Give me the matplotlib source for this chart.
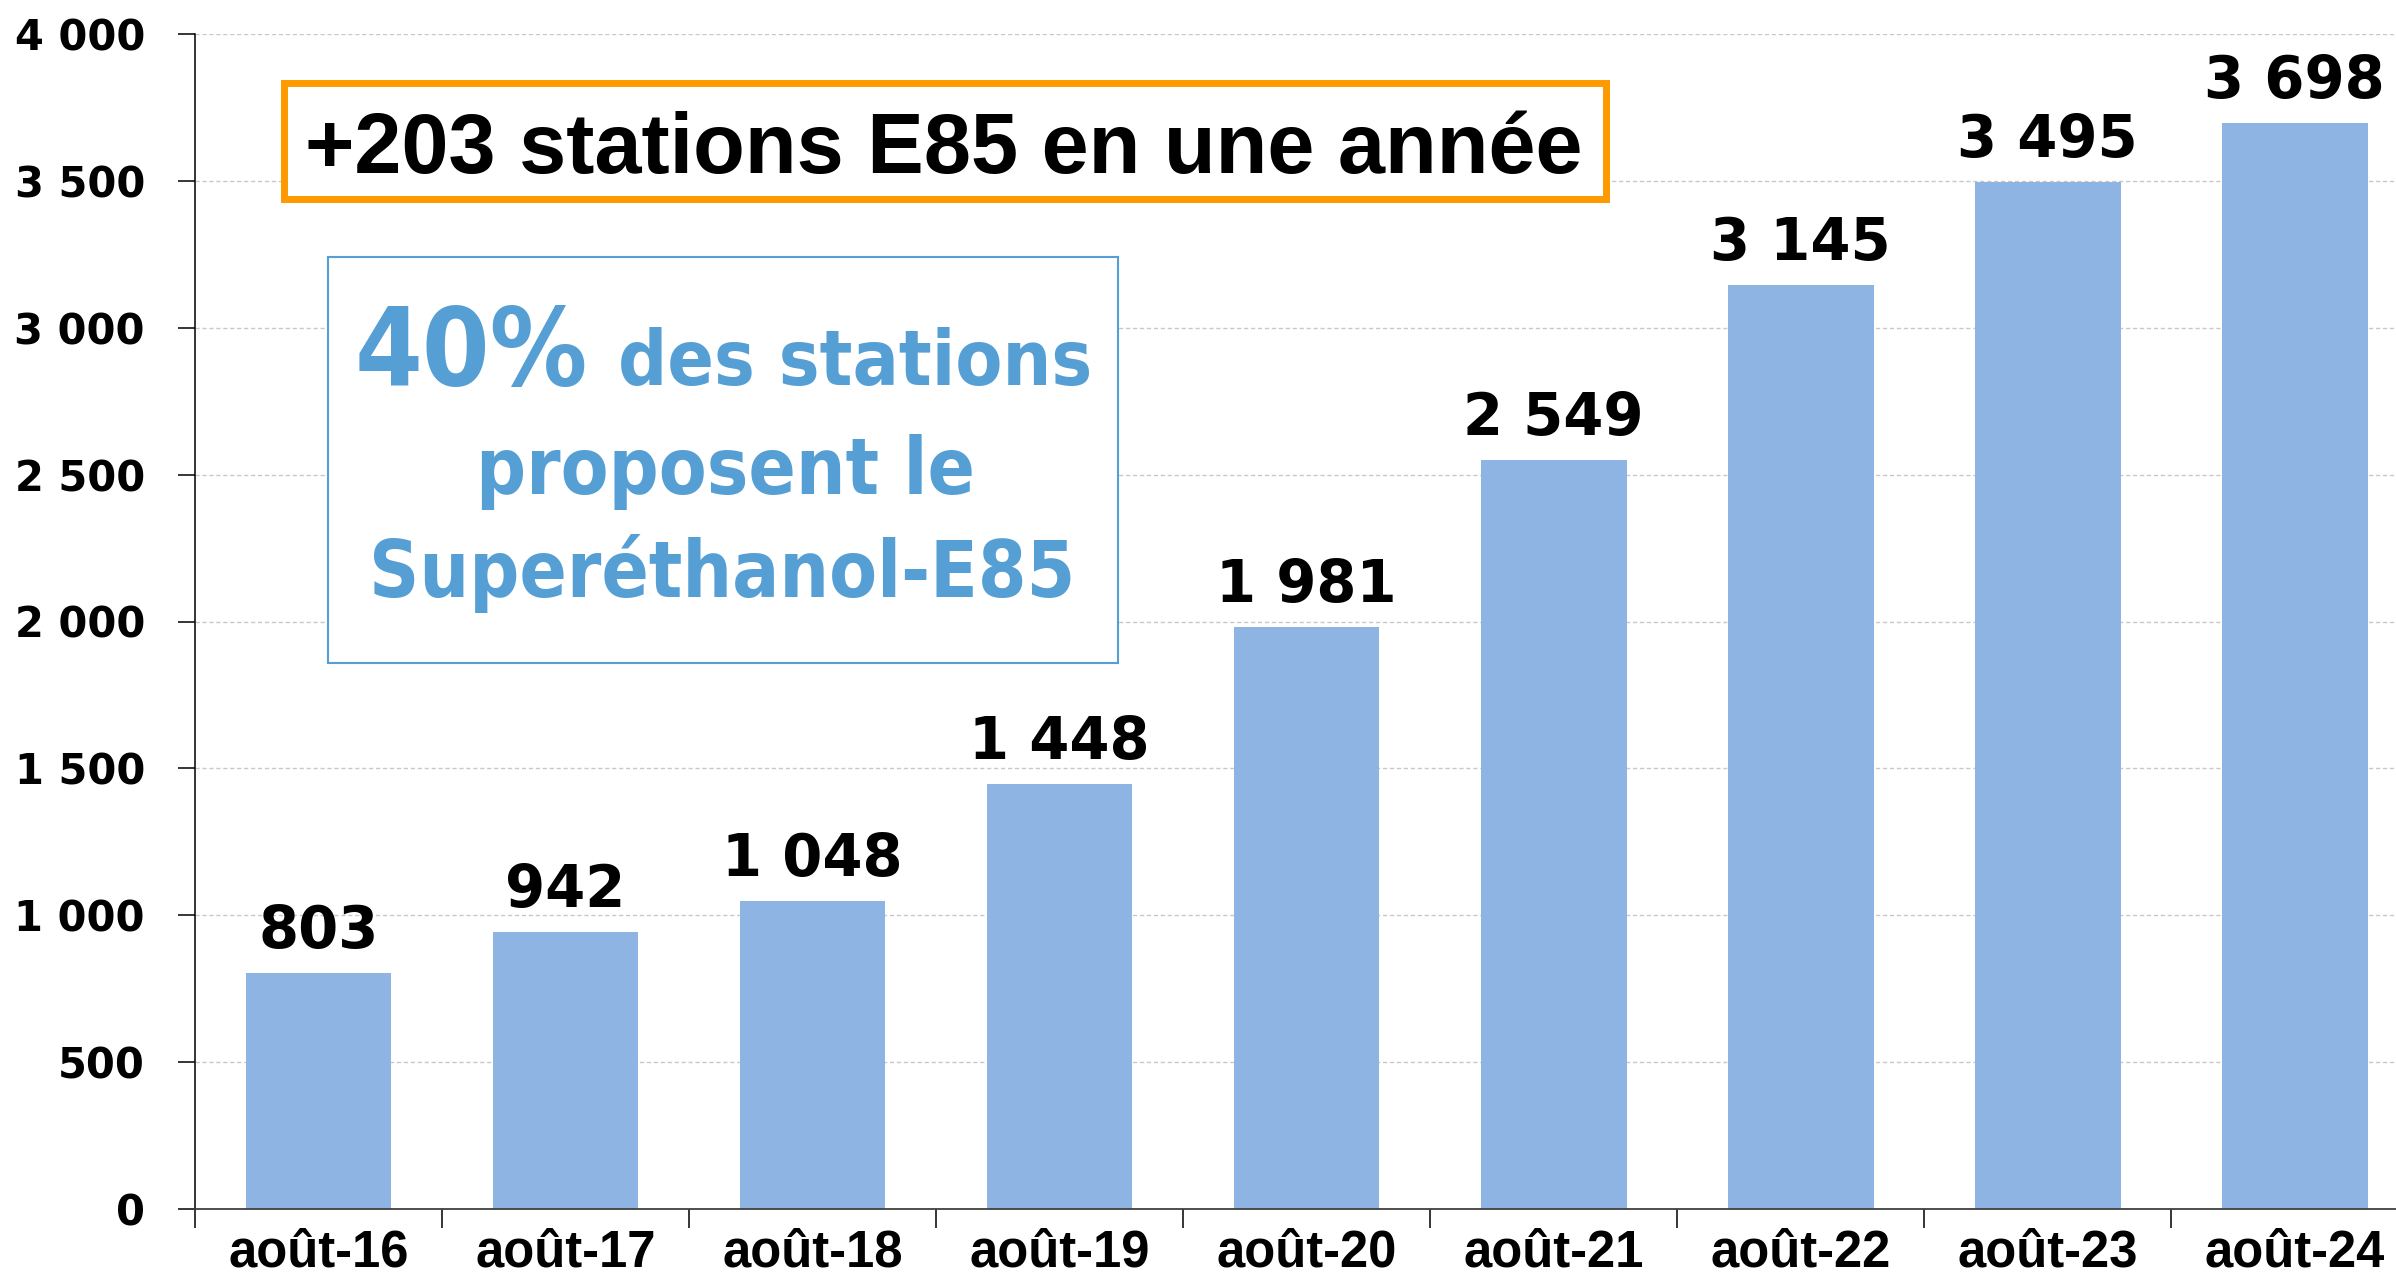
import matplotlib.pyplot as plt
from matplotlib.patches import Rectangle

# stations E85 en France, chaque mois d'août
mois = ['août-16', 'août-17', 'août-18', 'août-19', 'août-20',
        'août-21', 'août-22', 'août-23', 'août-24']
stations = [803, 942, 1048, 1448, 1981, 2549, 3145, 3495, 3698]
yticks = [0, 500, 1000, 1500, 2000, 2500, 3000, 3500, 4000]

W, H = 2396, 1278


def px(x, y):
    # pixel position (from top-left) -> figure fraction
    return x / W, 1 - y / H


def fmt(v):
    return f"{v:,}".replace(",", " ")


fig = plt.figure(figsize=(W / 100, H / 100), dpi=100)
ax = fig.add_axes([195 / W, (H - 1209) / H, 1 - 195 / W, (1209 - 34) / H])

x = list(range(len(mois)))
ax.bar(x, stations, width=0.59, color='#8EB4E3', zorder=2)

for xi, v in zip(x, stations):
    ax.annotate(fmt(v), (xi, v), xytext=(0, 18), textcoords='offset points',
                ha='center', va='baseline', fontsize=41.5, fontweight='bold',
                family='DejaVu Sans', color='black')

ax.set_xlim(-0.5, 8.41)
ax.set_ylim(0, 4000)

ax.set_yticks(yticks)
ax.set_yticklabels([fmt(v) for v in yticks], fontsize=30, fontweight='bold',
                   family='DejaVu Sans')
ax.tick_params(axis='y', length=12, width=1.1, pad=24)

ax.set_xticks([i - 0.5 for i in x])
ax.set_xticklabels([])
ax.set_xticks(x, minor=True)
ax.set_xticklabels(mois, minor=True, fontsize=36.5, fontweight='bold',
                   family='Liberation Sans')
ax.tick_params(axis='x', which='major', length=14, width=1.1)
ax.tick_params(axis='x', which='minor', length=0, pad=14)

ax.yaxis.grid(True, color='#c8c8c8', linestyle=(0, (3, 2)), lw=1, zorder=0)
ax.set_axisbelow(True)
for s in ['top', 'right']:
    ax.spines[s].set_visible(False)
ax.spines['left'].set_linewidth(1.1)
ax.spines['bottom'].set_linewidth(1.3)
ax.spines['bottom'].set_color('#404040')

# encadré orange
x0, y0 = px(283.5, 198.5)
x1, y1 = px(1605.5, 82.5)
fig.patches.append(Rectangle((x0, y0), x1 - x0, y1 - y0, transform=fig.transFigure,
                             fill=True, facecolor='white', edgecolor='#FF9900',
                             lw=5, zorder=5))
fig.text(*px(944, 173), '+203 stations E85 en une année', ha='center', va='baseline',
         fontsize=61, fontweight='bold', family='Liberation Sans', color='black',
         zorder=6)

# encadré bleu
bleu = '#559FD4'
x0, y0 = px(328, 663)
x1, y1 = px(1118, 257)
fig.patches.append(Rectangle((x0, y0), x1 - x0, y1 - y0, transform=fig.transFigure,
                             facecolor='white', edgecolor=bleu, lw=1.5, zorder=5))
txt = dict(fontweight='bold', family='DejaVu Sans', fontstretch='condensed',
           color=bleu, zorder=6, va='baseline')
fig.text(*px(355, 385), '40%', ha='left', fontsize=78, **txt)
fig.text(*px(1092, 385), 'des stations', ha='right', fontsize=55, **txt)
fig.text(*px(725, 494), 'proposent le', ha='center', fontsize=56, **txt)
fig.text(*px(722, 597), 'Superéthanol-E85', ha='center', fontsize=56, **txt)

fig.savefig('out.png', dpi=100)
